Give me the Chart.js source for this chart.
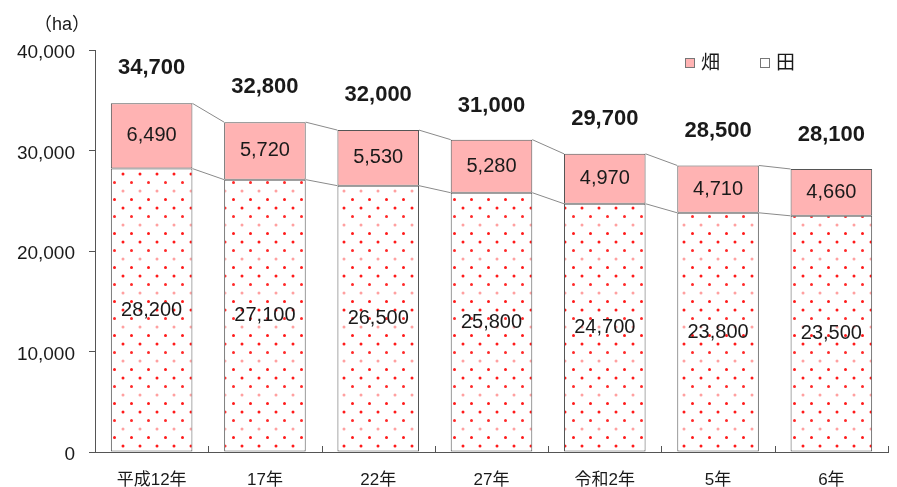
<!DOCTYPE html>
<html><head><meta charset="utf-8">
<script src="https://cdn.jsdelivr.net/npm/chart.js@4"></script>
<style>html,body{margin:0;padding:0;background:#fff}#wrap{width:897px;height:487px}</style>
</head><body><div id="wrap"><canvas id="c" width="897" height="487"></canvas></div>
<script>
const categories = ['平成12年','17年','22年','27年','令和2年','5年','6年'];
const paddyValues = [28200,27100,26500,25800,24700,23800,23500]; // 田
const fieldValues = [6490,5720,5530,5280,4970,4710,4660];        // 畑
const totalValues = [34700,32800,32000,31000,29700,28500,28100];
const yTickValues = [0,10000,20000,30000,40000];
const unitLabel = '（ha）';
const seriesNames = ['田','畑'];

const FONT = '"Liberation Sans", "Noto Sans CJK JP", Arial, sans-serif';
const PINK = '#FFB3B3';
const BORDER = '#555555';
const TEXT = '#1a1a1a';

function makeDotPattern(){
  const p = document.createElement('canvas');
  p.width = 17; p.height = 34;
  const g = p.getContext('2d');
  g.fillStyle = '#ffffff'; g.fillRect(0,0,17,34);
  const rows = [[4,4,'#ff1a1a'],[12.5,12.5,'#ff2a2a'],[4,21,'#ffa0a0'],[12.5,29.5,'#ff1a1a']];
  rows.forEach(r=>{ g.fillStyle=r[2]; g.beginPath(); g.arc(r[0],r[1],1.5,0,Math.PI*2); g.fill(); });
  return g.createPattern(p,'repeat');
}

const fmt = v => v.toLocaleString('en-US');

const decor = {
  id:'decor',
  afterDatasetsDraw(chart){
    const ctx = chart.ctx;
    const x = chart.scales.x, y = chart.scales.y;
    const m0 = chart.getDatasetMeta(0).data, m1 = chart.getDatasetMeta(1).data;
    ctx.save();
    // connector lines
    ctx.strokeStyle = '#8a8a8a'; ctx.lineWidth = 1;
    [m0,m1].forEach(m=>{
      for(let i=0;i<m.length-1;i++){
        const a=m[i], b=m[i+1];
        ctx.beginPath();
        ctx.moveTo(a.x+a.width/2, a.y);
        ctx.lineTo(b.x-b.width/2, b.y);
        ctx.stroke();
      }
    });
    // value labels
    ctx.fillStyle = TEXT; ctx.textAlign='center'; ctx.textBaseline='middle';
    ctx.font = '20px '+FONT;
    m0.forEach((el,i)=>{ ctx.fillText(fmt(paddyValues[i]), el.x, (el.y+el.base)/2); });
    m1.forEach((el,i)=>{ ctx.fillText(fmt(fieldValues[i]), el.x, (el.y+el.base)/2); });
    ctx.font = 'bold 22px '+FONT;
    m1.forEach((el,i)=>{ ctx.fillText(fmt(totalValues[i]), el.x, y.getPixelForValue(totalValues[i]) - 35); });
    // x axis small tick marks at category boundaries
    ctx.strokeStyle = '#555'; ctx.lineWidth = 1;
    const step = (x.right - x.left)/categories.length;
    for(let i=0;i<=categories.length;i++){
      const px = Math.round(x.left + step*i)+0.5;
      ctx.beginPath(); ctx.moveTo(px, y.bottom); ctx.lineTo(px, y.bottom-6); ctx.stroke();
    }
    // unit label
    ctx.font = '18px '+FONT; ctx.textAlign='center';
    ctx.fillText(unitLabel, 62, 25);
    // legend
    ctx.font = '19px '+FONT; ctx.textAlign='left';
    const leg = [[seriesNames[1], PINK, 685],[seriesNames[0], '#ffffff', 760]];
    leg.forEach(l=>{
      ctx.fillStyle = l[1]; ctx.fillRect(l[2]+0.5, 58.5, 9, 9);
      ctx.strokeStyle = '#777'; ctx.strokeRect(l[2]+0.5, 58.5, 9, 9);
      ctx.fillStyle = TEXT; ctx.fillText(l[0], l[2]+16, 64);
    });
    ctx.restore();
  }
};

new Chart(document.getElementById('c'), {
  type:'bar',
  data:{
    labels: categories,
    datasets:[
      {label:seriesNames[0], data:paddyValues, backgroundColor:makeDotPattern(), borderColor:BORDER, borderWidth:1, borderSkipped:false},
      {label:seriesNames[1], data:fieldValues, backgroundColor:PINK, borderColor:BORDER, borderWidth:1, borderSkipped:false}
    ]
  },
  options:{
    responsive:false, animation:false,
    layout:{padding:{left:0,right:9,top:50,bottom:0}},
    plugins:{legend:{display:false}, tooltip:{enabled:false}},
    datasets:{bar:{barPercentage:0.72, categoryPercentage:1}},
    scales:{
      x:{stacked:true,
         grid:{display:false},
         border:{display:true,color:'#555',width:1},
         ticks:{color:TEXT, font:{family:FONT,size:17}, padding:10, maxRotation:0},
         afterFit(s){ s.height = 35; }
      },
      y:{stacked:true, min:0, max:40000,
         afterBuildTicks(s){ s.ticks = yTickValues.map(v=>({value:v})); },
         grid:{drawOnChartArea:false, drawTicks:true, tickLength:6, color:'#555'},
         border:{display:true,color:'#555',width:1},
         ticks:{color:TEXT, font:{family:FONT,size:19}, padding:14, labelOffset:3, callback:v=>fmt(v)},
         afterFit(s){ s.width = 95; }
      }
    }
  },
  plugins:[decor]
});
</script></body></html>
